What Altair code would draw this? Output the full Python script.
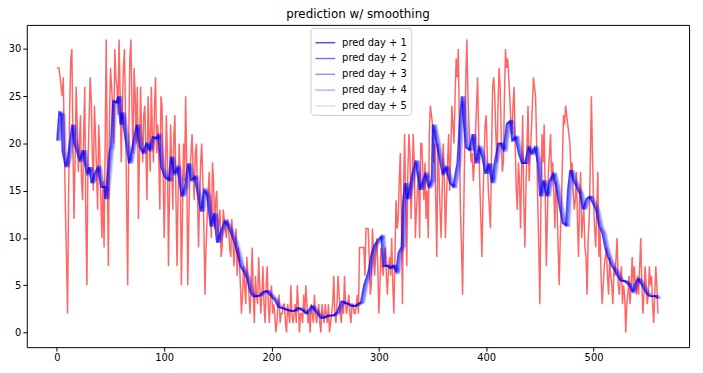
import altair as alt
import pandas as pd

# observed daily values
red_step = 1
red_values = [
    28, 28, 28, 27, 26, 25, 27, 20, 13, 8, 2, 15, 24, 29, 30, 20, 12, 18, 26, 22,
    17, 20, 23, 16, 14, 21, 26, 12, 5, 18, 22, 27, 25, 19, 15, 24, 21, 17, 13, 22,
    19, 14, 10, 16, 9, 20, 31, 18, 7, 22, 28, 26, 24, 20, 30, 27, 26, 23, 31, 25,
    18, 24, 28, 30, 23, 14, 5, 20, 29, 31, 24, 19, 28, 25, 20, 26, 12, 19, 26, 21,
    18, 23, 24, 19, 14, 25, 21, 17, 26, 21, 18, 24, 27, 19, 22, 18, 13, 25, 24, 17,
    10, 16, 23, 19, 7, 15, 22, 18, 13, 21, 23, 14, 7, 15, 20, 17, 5, 12, 20, 16,
    25, 18, 5, 12, 17, 19, 21, 17, 14, 19, 20, 15, 9, 14, 18, 20, 16, 11, 4, 9,
    12, 15, 17, 13, 10, 18, 16, 11, 14, 15, 10, 12, 13, 8, 9, 13, 12, 11, 10, 12,
    11, 9, 8, 12, 10, 7, 9, 11, 6, 9, 8, 5, 2, 4, 7, 5, 3, 8, 6, 4,
    2, 5, 9, 4, 1, 6, 4, 3, 8, 5, 2, 4, 7, 3, 1, 5, 7, 3, 1, 4,
    5, 2, 3, 2, 0, 1, 3, 4, 1, 2, 2, 3, 3, 1, 0, 3, 2, 1, 5, 2,
    1, 2, 3, 1, 5, 3, 0, 2, 2, 1, 4, 2, 5, 3, 1, 2, 0, 3, 2, 1,
    4, 2, 1, 2, 3, 1, 0, 3, 2, 1, 3, 2, 1, 3, 0, 1, 2, 3, 6, 2,
    1, 3, 6, 4, 2, 1, 3, 2, 6, 3, 2, 3, 4, 2, 1, 3, 3, 2, 2, 3,
    4, 2, 9, 9, 9, 9, 9, 6, 11, 11, 11, 8, 4, 5, 11, 9, 6, 8, 10, 7,
    2, 5, 9, 7, 6, 8, 9, 6, 4, 7, 8, 6, 10, 5, 2, 8, 14, 11, 12, 16,
    19, 12, 3, 15, 21, 14, 7, 17, 21, 19, 12, 16, 21, 18, 10, 13, 15, 17, 10, 20,
    20, 17, 14, 18, 12, 15, 10, 21, 24, 23, 22, 18, 20, 14, 8, 20, 17, 13, 10, 15,
    20, 16, 10, 14, 18, 21, 15, 19, 24, 22, 20, 25, 29, 27, 30, 22, 13, 9, 4, 12,
    20, 27, 31, 25, 22, 20, 18, 19, 16, 18, 21, 24, 27, 21, 16, 12, 8, 14, 18, 22,
    23, 19, 15, 13, 11, 19, 26, 27, 25, 21, 18, 24, 28, 26, 21, 17, 18, 25, 30, 28,
    29, 27, 25, 22, 21, 24, 26, 20, 15, 13, 18, 16, 11, 17, 23, 14, 9, 15, 20, 24,
    16, 19, 21, 24, 27, 26, 25, 20, 14, 9, 3, 14, 21, 18, 22, 15, 7, 12, 17, 19,
    21, 16, 18, 15, 11, 16, 14, 9, 5, 10, 13, 18, 23, 22, 24, 23, 22, 21, 20, 17,
    18, 15, 13, 14, 17, 12, 8, 14, 17, 10, 12, 13, 9, 8, 4, 10, 12, 18, 25, 19,
    14, 11, 9, 13, 17, 8, 11, 6, 3, 5, 7, 8, 9, 6, 4, 8, 6, 5, 3, 7,
    6, 8, 10, 5, 4, 6, 7, 3, 5, 4, 0, 3, 4, 6, 3, 5, 8, 5, 7, 5,
    4, 6, 4, 7, 10, 5, 2, 4, 7, 5, 3, 4, 7, 5, 6, 3, 1, 4, 7, 5,
    2,
]

# smoothed prediction (day + 1)
blue_days = [
    0, 2, 4, 5, 8, 10, 14, 16, 18, 21,
    24, 26, 28, 30, 32, 35, 38, 41, 44, 45,
    47, 49, 50, 52, 55, 57, 59, 60, 63, 67,
    70, 74, 77, 80, 83, 86, 89, 92, 94, 97,
    100, 104, 106, 109, 112, 116, 119, 122, 125, 128,
    131, 134, 137, 140, 143, 146, 149, 152, 156, 159,
    162, 165, 168, 171, 174, 177, 180, 183, 188, 192,
    195, 199, 203, 206, 211, 216, 221, 224, 226, 229,
    232, 237, 241, 246, 252, 257, 261, 265, 268, 271,
    274, 277, 280, 283, 286, 290, 293, 296, 299, 302,
    304, 307, 310, 313, 316, 318, 321, 322, 324, 326,
    328, 331, 334, 338, 340, 343, 346, 349, 350, 353,
    356, 359, 362, 366, 369, 373, 375, 377, 379, 381,
    384, 387, 390, 393, 396, 399, 402, 405, 408, 411,
    413, 416, 419, 422, 424, 427, 430, 433, 436, 439,
    442, 445, 448, 450, 453, 456, 459, 462, 465, 468,
    471, 474, 476, 478, 481, 484, 487, 490, 493, 496,
    499, 502, 505, 508, 511, 514, 517, 520, 522, 525,
    529, 533, 536, 538, 541, 545, 548, 551, 554, 557,
    559,
]
blue_values = [
    20.3, 23.3, 23.0, 19.2, 17.5, 18.5, 22.0, 20.0, 19.3, 18.2,
    19.3, 17.8, 16.8, 17.5, 15.8, 16.8, 17.5, 15.4, 15.4, 14.1,
    16.8, 19.3, 19.6, 24.5, 24.3, 25.0, 22.0, 23.3, 21.0, 17.9,
    19.6, 22.0, 19.6, 19.0, 20.0, 19.3, 20.7, 20.5, 20.9, 17.5,
    16.5, 16.1, 18.6, 16.8, 17.5, 14.4, 15.4, 17.9, 16.1, 16.5,
    14.7, 12.8, 15.1, 14.4, 11.2, 12.6, 9.5, 10.5, 11.8, 11.3,
    10.5, 9.6, 8.4, 7.0, 6.4, 5.7, 4.3, 3.8, 3.9, 4.3,
    4.4, 3.9, 3.4, 2.7, 2.5, 2.3, 2.3, 2.6, 2.5, 2.3,
    2.0, 2.8, 2.2, 1.5, 1.8, 1.8, 2.2, 3.3, 3.1, 3.0,
    2.8, 2.8, 3.0, 3.2, 5.0, 6.4, 8.4, 9.3, 9.8, 10.2,
    7.0, 7.1, 6.8, 7.1, 6.4, 8.4, 9.1, 13.4, 15.8, 14.1,
    15.1, 16.8, 18.2, 15.1, 15.8, 16.8, 15.4, 16.1, 22.0, 20.3,
    18.6, 16.8, 17.5, 15.8, 15.4, 18.0, 22.1, 25.0, 22.0, 19.6,
    19.3, 21.0, 17.9, 19.6, 18.6, 16.8, 17.9, 15.8, 18.2, 20.0,
    20.0, 19.3, 22.1, 22.4, 20.3, 20.7, 19.0, 17.9, 17.9, 19.6,
    18.9, 19.6, 17.9, 14.4, 16.1, 14.4, 16.1, 16.8, 15.4, 13.4,
    11.6, 11.3, 15.1, 17.2, 16.1, 15.4, 14.7, 13.0, 14.1, 14.4,
    13.7, 13.0, 11.3, 10.5, 8.8, 7.8, 7.0, 6.5, 6.0, 5.5,
    5.4, 5.0, 4.3, 5.0, 5.7, 5.0, 4.3, 3.9, 3.8, 3.9,
    3.6,
]

series_names = ["pred day + 1", "pred day + 2", "pred day + 3", "pred day + 4", "pred day + 5"]
series_lag = [0, 1, 2, 3, 4]
series_colors = [
    "rgba(0,0,255,0.7)",
    "rgba(0,0,255,0.55)",
    "rgba(0,0,255,0.42)",
    "rgba(0,0,255,0.3)",
    "rgba(0,0,255,0.15)",
]

x_ticks = [0, 100, 200, 300, 400, 500]
y_ticks = [0, 5, 10, 15, 20, 25, 30]

red_df = pd.DataFrame({
    "day": [i * red_step for i in range(len(red_values))],
    "value": red_values,
})

rows = []
for k, (name, lag) in enumerate(zip(series_names, series_lag)):
    for d, v in zip(blue_days, blue_values):
        rows.append({"day": d + lag, "value": v, "series": name, "k": k})
blue_df = pd.DataFrame(rows)

FONT = "DejaVu Sans"

x = alt.X("day:Q", scale=alt.Scale(domain=[-28, 589], nice=False, zero=False),
          axis=alt.Axis(values=x_ticks, title=None, format="d"))
y = alt.Y("value:Q", scale=alt.Scale(domain=[-1.55, 32.55], nice=False, zero=False),
          axis=alt.Axis(values=y_ticks, title=None, format="d"))

red = alt.Chart(red_df).mark_line(color="#ff0000", opacity=0.6, strokeWidth=1.5).encode(x=x, y=y)

blue = alt.Chart(blue_df).mark_line(strokeWidth=1.5).encode(
    x=x,
    y=y,
    color=alt.Color(
        "series:N",
        scale=alt.Scale(domain=series_names, range=series_colors),
        legend=alt.Legend(
            title=None,
            orient="none",
            legendX=287,
            legendY=3,
            symbolType="stroke",
            symbolSize=400,
            symbolStrokeWidth=1.5,
            labelFont=FONT,
            labelFontSize=10,
            labelColor="black",
            labelOffset=6,
            fillColor="white",
            strokeColor="#cccccc",
            cornerRadius=3,
            padding=4,
            rowPadding=-2,
        ),
    ),
)

chart = alt.layer(red, blue).properties(
    width=670,
    height=326,
    title=alt.TitleParams("prediction w/ smoothing", font=FONT, fontSize=12,
                          fontWeight="normal", color="black", anchor="middle", offset=4),
    autosize=alt.AutoSizeParams(type="none"),
    padding={"left": 19, "top": 15, "right": 6, "bottom": 20},
).configure_view(
    stroke="black", strokeWidth=1
).configure_axis(
    grid=False,
    domain=False,
    tickColor="black",
    tickSize=4,
    labelColor="black",
    labelFont=FONT,
    labelFontSize=10,
)

chart.save("out.html", embed_options={"renderer": "svg", "actions": False})
